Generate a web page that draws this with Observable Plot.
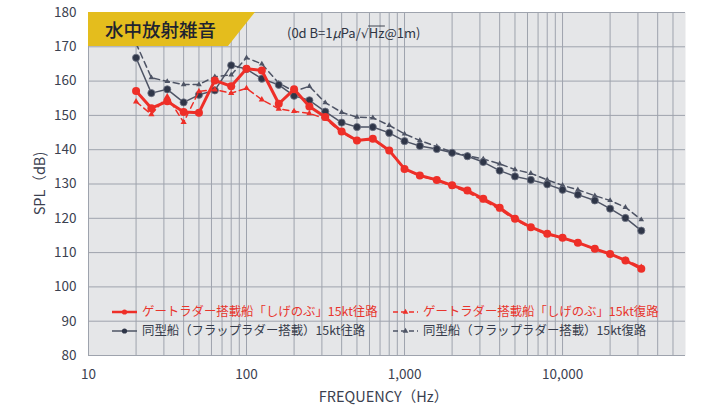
<!DOCTYPE html>
<html><head><meta charset="utf-8">
<script src="https://cdn.jsdelivr.net/npm/d3@7"></script>
<script src="https://cdn.jsdelivr.net/npm/@observablehq/plot@0.6"></script>
<style>
html,body{margin:0;padding:0;background:#fff;}
#chart{width:723px;height:410px;}
</style>
</head><body><div id="chart"></div>
<script>
const freqs = [20,25,31.5,40,50,63,80,100,125,160,200,250,315,400,500,630,800,1000,1250,1600,2000,2500,3150,4000,5000,6300,8000,10000,12500,16000,20000,25000,31500];
const gateOut  = [157.1,152.1,154.1,151.0,150.8,160.2,158.5,163.6,163.1,153.4,157.6,152.6,149.5,145.3,142.7,143.2,139.8,134.4,132.5,131.2,129.6,128.1,125.7,123.1,119.9,117.4,115.5,114.3,112.9,111.1,109.6,107.7,105.3];
const gateBack = [154.0,150.3,155.5,148.0,157.0,157.5,156.5,157.9,154.6,151.9,151.2,150.6,149.0,145.0,142.5,143.0,139.6,134.3,132.3,131.0,129.3,127.6,125.2,122.6,119.6,117.2,115.3,114.2,112.8,111.0,109.6,107.9,105.8];
const flapOut  = [166.8,156.5,157.6,153.8,156.0,157.3,164.6,163.5,160.7,158.9,155.7,154.4,151.1,147.9,146.6,146.6,144.9,142.5,141.1,140.2,139.1,138.1,136.4,133.9,132.2,131.2,129.9,128.3,126.9,125.2,122.8,120.1,116.4];
const flapBack = [171.0,161.0,159.9,159.0,159.0,161.3,161.8,166.8,165.0,159.4,157.0,158.5,153.7,150.9,149.5,149.3,147.1,144.6,142.7,140.9,139.3,138.3,137.3,135.9,134.2,133.1,131.2,129.6,128.3,126.6,125.2,123.2,119.6];
const seriesNames = ["ゲートラダー搭載船「しげのぶ」15kt往路","ゲートラダー搭載船「しげのぶ」15kt復路","同型船（フラップラダー搭載）15kt往路","同型船（フラップラダー搭載）15kt復路"];
const yTicks = [80,90,100,110,120,130,140,150,160,170,180];
const xTickLabels = [10,100,1000,10000];
const xGrid = [10,20,30,40,50,60,70,80,90,100,200,300,400,500,600,700,800,900,1000,2000,3000,4000,5000,6000,7000,8000,9000,10000,20000,30000,40000,50000];
const titleText = "水中放射雑音";
const yLabel = "SPL（dB)";
const xLabel = "FREQUENCY（Hz）";

const RED = "#ee2f28", GRAY = "#4e5465", DOT = "#2f3648";
const FONT = "'Noto Sans CJK JP','Noto Sans',sans-serif";

const mk = (vals, s) => freqs.map((f,i) => ({f, v: vals[i], s}));
const dGO = mk(gateOut, seriesNames[0]);
const dGB = mk(gateBack, seriesNames[1]);
const dFO = mk(flapOut, seriesNames[2]);
const dFB = mk(flapBack, seriesNames[3]);

const W = 723, H = 410;
const chart = Plot.plot({
  width: W, height: H,
  marginLeft: 88, marginRight: 38, marginTop: 12, marginBottom: 55,
  style: {fontFamily: FONT, fontSize: "13.5px", color: "#3b4150", background: "transparent", overflow: "visible"},
  x: {type: "log", domain: [10, 60000]},
  y: {domain: [80, 180]},
  marks: [
    Plot.frame({fill: "#e5e6e8", stroke: null}),
    Plot.gridX(xGrid, {stroke: "#9ea3ad", strokeOpacity: 1, strokeWidth: 1}),
    Plot.gridY(yTicks, {stroke: "#9ea3ad", strokeOpacity: 1, strokeWidth: 1}),
    Plot.axisY(yTicks, {tickSize: 0, tickPadding: 12, label: null, fontSize: 13.5}),
    Plot.axisX(xTickLabels, {tickSize: 0, tickPadding: 14, tickFormat: d3.format(","), label: null, fontSize: 13.5}),
    Plot.line(dFB, {x: "f", y: "v", stroke: GRAY, strokeWidth: 1.5, strokeDasharray: "6,4"}),
    Plot.dot(dFB, {x: "f", y: "v", symbol: "triangle", r: 2.1, fill: GRAY}),
    Plot.line(dFO, {x: "f", y: "v", stroke: GRAY, strokeWidth: 1.5}),
    Plot.dot(dFO, {x: "f", y: "v", r: 3.6, fill: DOT, stroke: "#6e7484", strokeWidth: 0.8}),
    Plot.line(dGB, {x: "f", y: "v", stroke: RED, strokeWidth: 1.5, strokeDasharray: "6,4"}),
    Plot.dot(dGB, {x: "f", y: "v", symbol: "triangle", r: 2.3, fill: RED}),
    Plot.line(dGO, {x: "f", y: "v", stroke: RED, strokeWidth: 3}),
    Plot.dot(dGO, {x: "f", y: "v", r: 4, fill: RED})
  ]
});
document.getElementById("chart").appendChild(chart);

const svg = d3.select(chart);
const xs = chart.scale("x"), ys = chart.scale("y");
const pL = xs.range[0], pR = xs.range[1], pT = ys.range[1], pB = ys.range[0];

// title box
const g = svg.append("g").attr("font-family", FONT).attr("text-anchor", "start");
g.append("polygon")
  .attr("points", [[pL, pT],[pL+167, pT],[pL+140, pT+34],[pL, pT+34]].map(p => p.join(",")).join(" "))
  .attr("fill", "#e4bd1d");
g.append("text").attr("x", pL + 17).attr("y", pT + 24.5)
  .attr("font-size", 18.5).attr("font-weight", 500).attr("fill", "#1e2330").text(titleText);

// unit note
const noteX = pL + 199, noteY = pT + 25.5;
const note = g.append("text").attr("x", noteX).attr("y", noteY)
  .attr("font-size", 13).attr("fill", "#2e3442");
const parts = ["(0d B=1", "μ", "Pa/", "√", "Hz", "@1m)"];
note.append("tspan").text(parts[0]);
note.append("tspan").attr("font-style", "italic").text(parts[1]);
note.append("tspan").text(parts[2]);
note.append("tspan").attr("font-family", "'DejaVu Sans'").attr("font-size", 12.5).text(parts[3]);
note.append("tspan").text(parts[4]);
note.append("tspan").text(parts[5]);
const nn = note.node();
const iRad = parts[0].length + parts[1].length + parts[2].length;
const iH = iRad + 1;
try {
  const ext = nn.getExtentOfChar(iRad);
  const xa = ext.x + ext.width - 0.6;
  const ya = noteY - 11.5;
  const xb = nn.getEndPositionOfChar(iH + 1).x + 0.5;
  g.append("line").attr("x1", xa).attr("x2", xb).attr("y1", ya).attr("y2", ya)
    .attr("stroke", "#2e3442").attr("stroke-width", 0.9);
} catch (e) {}

// axis titles
g.append("text").attr("transform", `translate(${pL - 48},${(pT+pB)/2}) rotate(-90)`)
  .attr("text-anchor", "middle").attr("dy", "0.35em")
  .attr("font-size", 14.5).attr("fill", "#3b4150").text(yLabel);
g.append("text").attr("x", (pL+pR)/2 - 3).attr("y", pB + 47)
  .attr("text-anchor", "middle")
  .attr("font-size", 14.5).attr("fill", "#3b4150").text(xLabel);

// legend
const legendItems = [
  {name: seriesNames[0], color: RED, dash: null, w: 2.5, sym: "circle", col: 0, row: 0},
  {name: seriesNames[1], color: RED, dash: "5,3", w: 1.5, sym: "tri", col: 1, row: 0},
  {name: seriesNames[2], color: GRAY, dash: null, w: 1.5, sym: "circle", col: 0, row: 1},
  {name: seriesNames[3], color: GRAY, dash: "5,3", w: 1.5, sym: "tri", col: 1, row: 1}
];
const colX = [pL + 24, pL + 305], rowY = [pB - 43, pB - 24];
legendItems.forEach(it => {
  const x0 = colX[it.col], y0 = rowY[it.row];
  const gg = g.append("g");
  gg.append("line").attr("x1", x0).attr("x2", x0 + 25).attr("y1", y0).attr("y2", y0)
    .attr("stroke", it.color).attr("stroke-width", it.w).attr("stroke-dasharray", it.dash);
  if (it.sym === "circle") gg.append("circle").attr("cx", x0 + 12.5).attr("cy", y0).attr("r", 2.6).attr("fill", it.color === RED ? RED : DOT);
  else gg.append("path").attr("d", d3.symbol(d3.symbolTriangle, 14)()).attr("transform", `translate(${x0+12.5},${y0})`).attr("fill", it.color);
  gg.append("text").attr("x", x0 + 30).attr("y", y0).attr("dy", "0.36em")
    .attr("font-size", 12.4).attr("fill", it.color === RED ? "#e8352d" : "#363c4b").text(it.name);
});
</script>
</body></html>
